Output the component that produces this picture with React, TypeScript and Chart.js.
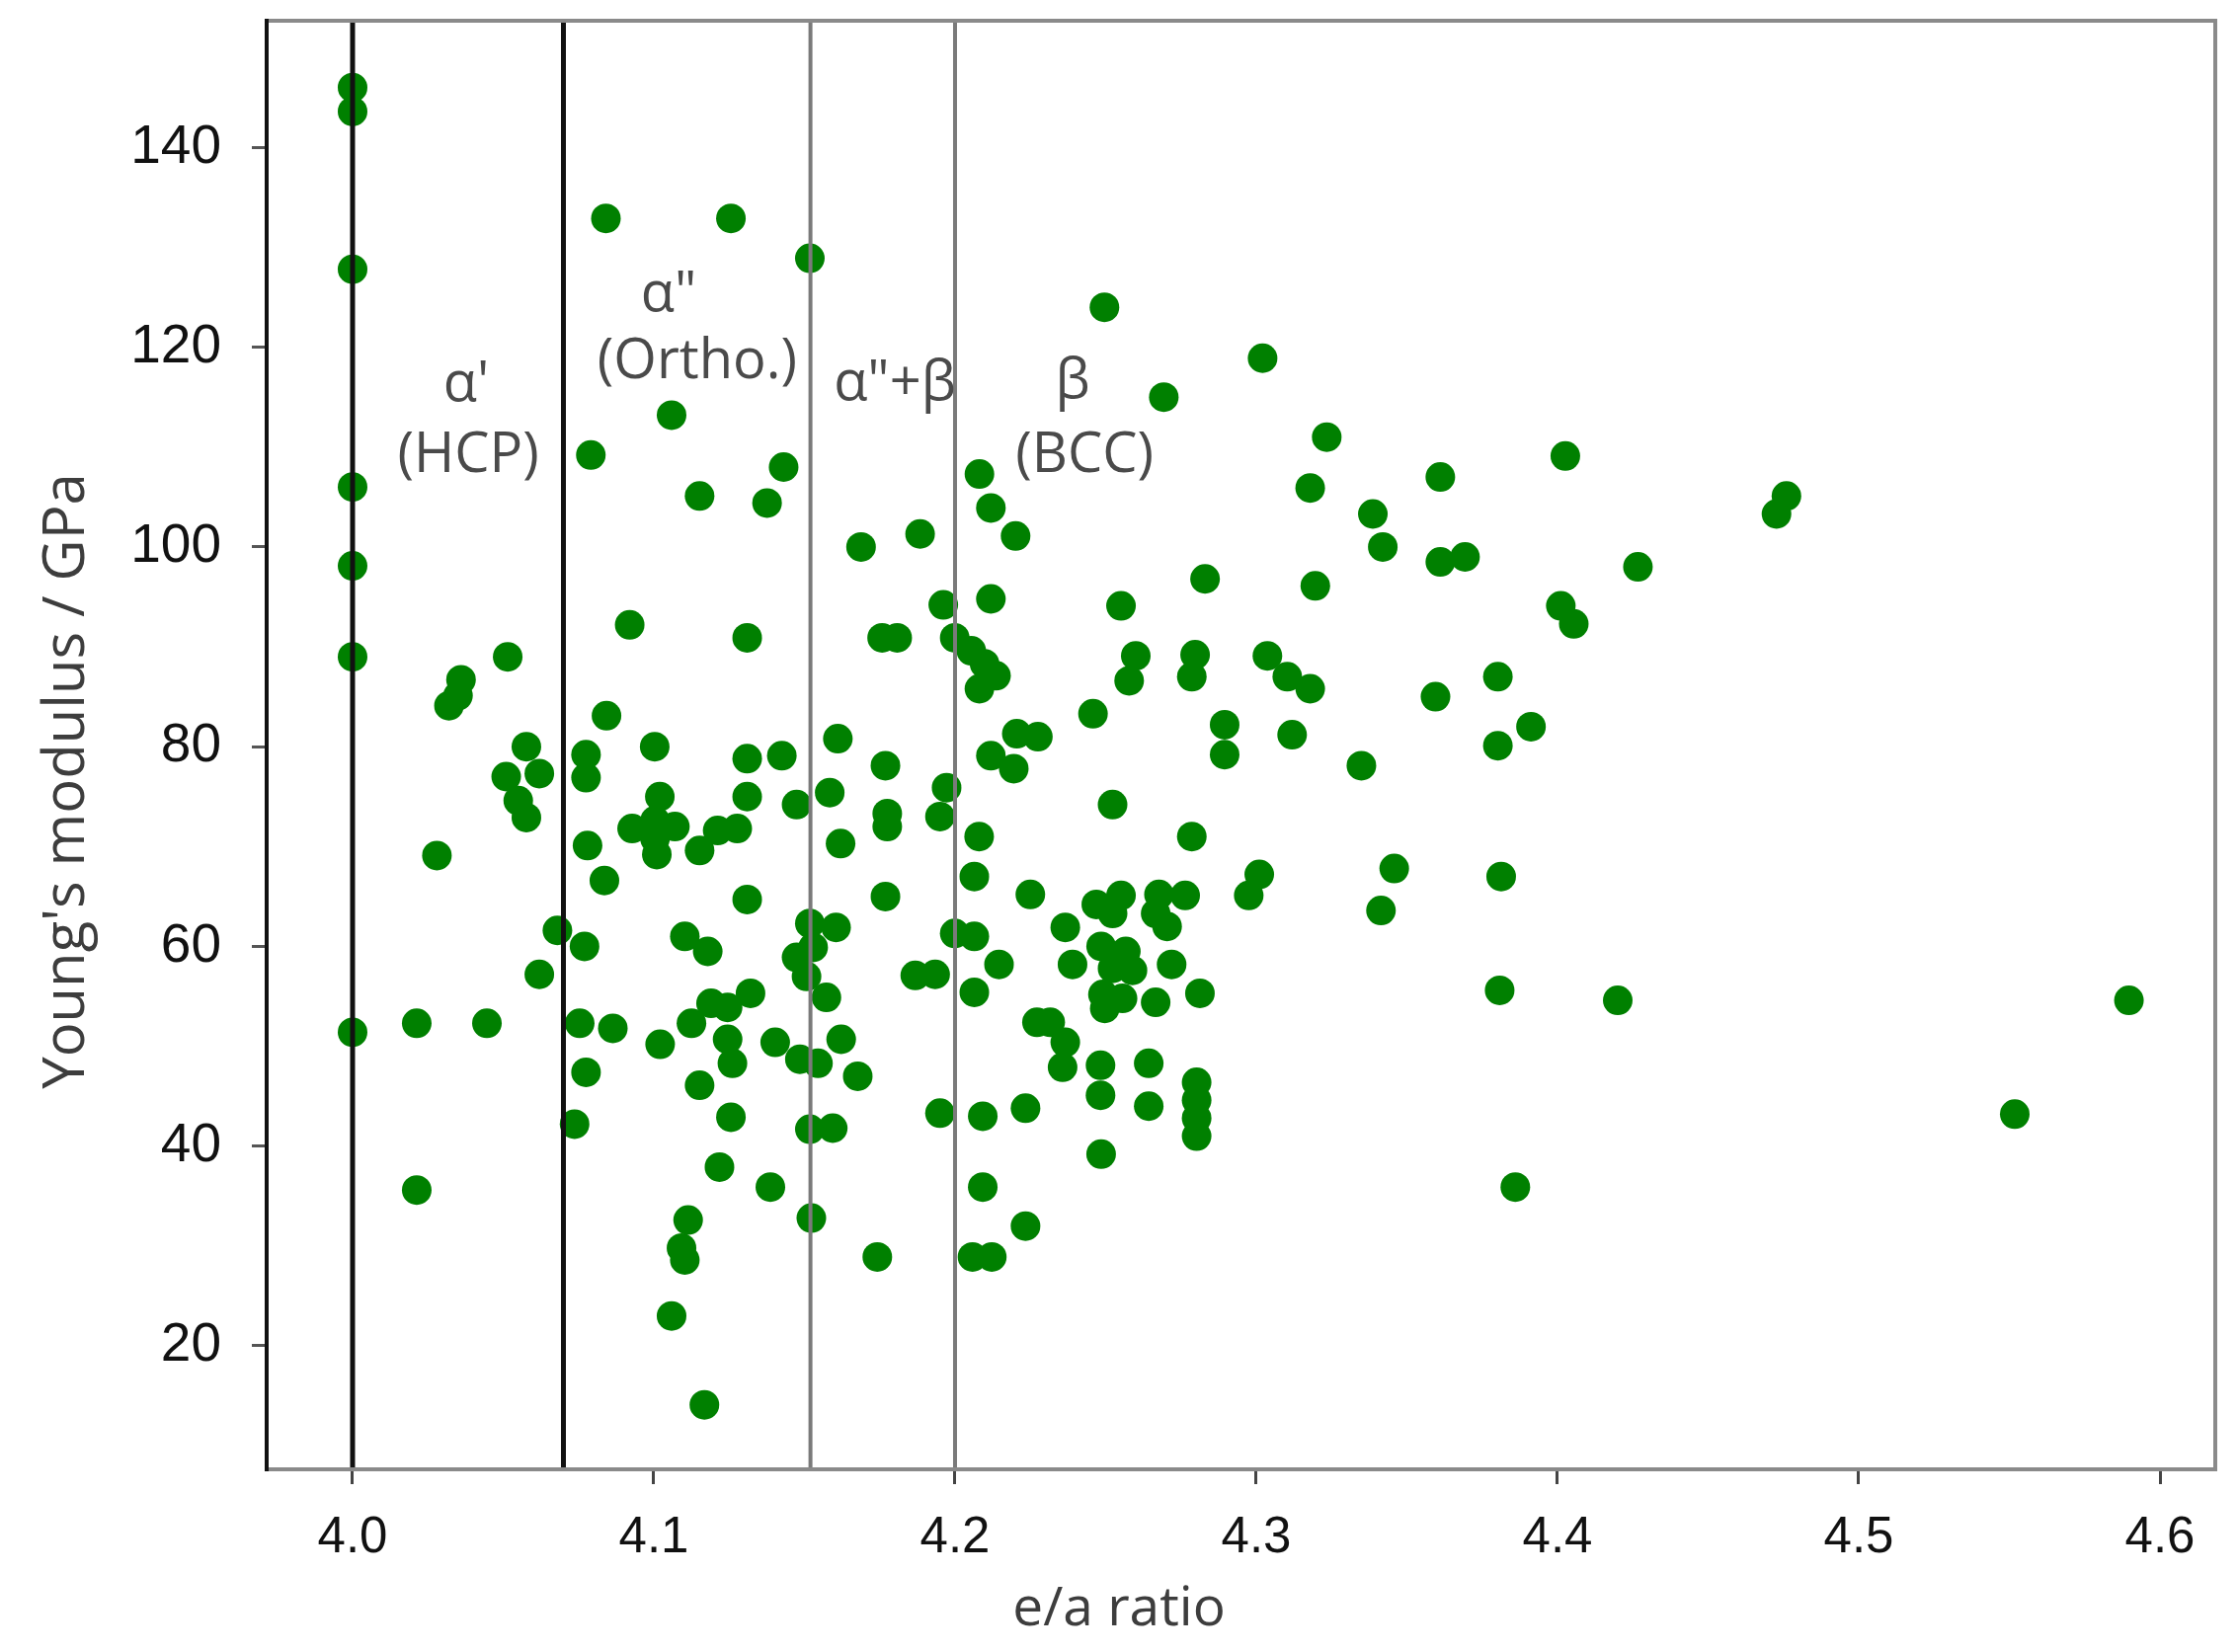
import React, { useEffect, useRef } from "react";
import { Chart, registerables } from "chart.js";

Chart.register(...registerables);

// ---- Data (e/a ratio vs Young's modulus, GPa) ----
// α' (HCP) region
const alphaPrimeEA = [4.0, 4.0, 4.0, 4.0, 4.0, 4.0, 4.0, 4.0213, 4.0213, 4.028, 4.032, 4.035, 4.036, 4.0446, 4.0515, 4.051, 4.0577, 4.062, 4.055, 4.0577, 4.068, 4.062];
const alphaPrimeE = [146.0, 143.6, 127.8, 106.0, 98.1, 89.0, 51.4, 52.3, 35.6, 69.1, 84.1, 85.1, 86.7, 52.3, 89.0, 77.0, 80.0, 77.3, 74.6, 72.9, 61.6, 57.2];

// α'' (Ortho.) region
const alphaDoublePrimeEA = [
  4.0737, 4.077, 4.0775, 4.0775, 4.078, 4.0836, 4.0843, 4.0754, 4.0864, 4.0775,
  4.092, 4.1003, 4.0791, 4.0841, 4.1256, 4.1059, 4.1431, 4.1152, 4.1376, 4.0928,
  4.1004, 4.107, 4.101, 4.1004, 4.1212, 4.1277, 4.1152, 4.102, 4.131, 4.1474,
  4.131, 4.131, 4.1425, 4.131, 4.1103, 4.1179, 4.1321, 4.1474, 4.1507, 4.1021,
  4.1125, 4.119, 4.1245, 4.1245, 4.1261, 4.1403, 4.1485, 4.1152, 4.1256, 4.1218,
  4.1387, 4.1518, 4.1114, 4.1092, 4.1103, 4.1059, 4.1168, 4.1518, 4.1523,
];
const alphaDoublePrimeE = [
  42.2, 60.0, 79.2, 76.9, 70.1, 66.6, 83.1, 52.3, 51.8, 47.4,
  92.2, 80.0, 109.2, 132.9, 132.9, 113.2, 108.0, 105.1, 104.4, 71.8,
  72.6, 72.0, 69.2, 70.8, 71.6, 71.8, 69.6, 75.0, 75.0, 74.2,
  90.9, 78.8, 79.1, 64.7, 61.0, 59.5, 55.3, 58.9, 57.0, 50.2,
  52.3, 54.3, 53.9, 50.7, 48.3, 50.4, 48.7, 46.1, 42.9, 37.9,
  35.9, 41.7, 32.6, 29.8, 28.6, 23.0, 14.1, 62.3, 32.8,
];

// α''+β region
const mixedEA = [
  4.1518, 4.1688, 4.1884, 4.1584, 4.1775, 4.1775, 4.1972, 4.195, 4.1758, 4.1808,
  4.1961, 4.1999, 4.1611, 4.1769, 4.162, 4.1769, 4.1605, 4.1573, 4.1529, 4.1868,
  4.1934, 4.1999, 4.1545, 4.1622, 4.1677, 4.1594, 4.1742, 4.195,
];
const mixedE = [
  128.9, 100.0, 101.3, 75.4, 73.3, 72.0, 75.9, 73.0, 90.9, 90.9,
  94.2, 90.9, 80.8, 78.1, 70.3, 65.0, 61.9, 54.9, 59.9, 57.1,
  57.2, 61.3, 48.3, 50.7, 47.0, 41.8, 28.9, 43.3,
];

// β (BCC) region
const betaEA = [
  4.2081, 4.2119, 4.2201, 4.2119, 4.2054, 4.2098, 4.2136, 4.2081, 4.2205, 4.2119,
  4.2195, 4.2275, 4.2064, 4.225, 4.208, 4.2064, 4.2146, 4.2064, 4.2272, 4.2092,
  4.2234, 4.2092, 4.2234, 4.2058, 4.2122, 4.283, 4.3196, 4.342, 4.3611, 4.3693,
  4.2551, 4.26, 4.2578, 4.2797, 4.2786, 4.3037, 4.3103, 4.3179, 4.3595, 4.3802,
  4.3802, 4.2458, 4.2895, 4.2895, 4.3119, 4.3349, 4.2523, 4.2786, 4.301, 4.2975,
  4.3458, 4.3414, 4.3813, 4.3808, 4.2469, 4.2551, 4.2523, 4.2366, 4.2677, 4.2764,
  4.2666, 4.2704, 4.2485, 4.2567, 4.2523, 4.2589, 4.2491, 4.2556, 4.2497, 4.239,
  4.2719, 4.2666, 4.2813, 4.2316, 4.2366, 4.2357, 4.2483, 4.2483, 4.2643, 4.2643,
  4.2802, 4.2802, 4.2802, 4.2802, 4.2485, 4.386, 4.2496, 4.3021, 4.2693, 4.3234,
  4.3179, 4.3611, 4.3387, 4.4026, 4.4011, 4.4054, 4.4267, 4.476, 4.4727, 4.42,
  4.5518, 4.5897, 4.3912,
];
const betaE = [
  107.3, 103.9, 101.1, 94.8, 89.6, 88.3, 87.1, 85.8, 81.3, 79.1,
  77.8, 81.0, 67.0, 65.2, 71.0, 61.0, 58.2, 55.4, 52.4, 43.0,
  43.8, 35.9, 32.0, 28.9, 28.9, 96.8, 96.1, 100.0, 98.5, 99.0,
  94.1, 89.1, 86.6, 89.2, 87.0, 89.1, 87.0, 85.8, 85.0, 87.0,
  80.1, 83.3, 82.2, 79.2, 81.2, 78.1, 74.2, 71.0, 67.2, 65.1,
  67.8, 63.6, 67.0, 55.6, 64.2, 65.1, 63.3, 61.9, 65.2, 65.1,
  63.3, 62.0, 60.0, 59.5, 57.8, 57.6, 55.2, 54.8, 53.8, 58.2,
  58.2, 54.4, 55.3, 52.4, 50.4, 47.9, 48.1, 45.1, 48.3, 44.0,
  46.4, 44.6, 42.8, 41.0, 39.2, 35.9, 124.0, 118.9, 115.0, 111.0,
  105.9, 107.0, 103.3, 109.1, 94.1, 92.3, 98.0, 105.1, 103.3, 54.6,
  43.2, 54.6, 82.0,
];

// Phase boundaries (e/a) and labels
const boundariesDark = [4.0, 4.07];
const boundariesGrey = [4.152, 4.2];
const xTicks = [4.0, 4.1, 4.2, 4.3, 4.4, 4.5, 4.6];
const yTicks = [20, 40, 60, 80, 100, 120, 140];
const phaseLabelText = ["α'", "(HCP)", 'α"', "(Ortho.)", 'α"+β', "β", "(BCC)"];
const phaseLabelEA = [4.0377, 4.0384, 4.1049, 4.1144, 4.18, 4.239, 4.243];
const phaseLabelE = [114.6, 107.5, 123.6, 116.9, 114.7, 114.9, 107.5];
const xTitle = "e/a ratio";
const yTitle = "Young's modulus / GPa";

const X_MIN = 3.97148;
const X_MAX = 4.61836;
const Y_MIN = 7.64;
const Y_MAX = 152.69;

function toPoints(xs: number[], ys: number[]) {
  return xs.map((x, i) => ({ x, y: ys[i] }));
}

const decorPlugin = {
  id: "decor",
  afterDatasetsDraw(chart: any) {
    const { ctx, chartArea, scales } = chart;
    const xs = scales.x;
    const ys = scales.y;
    ctx.save();
    // phase labels
    ctx.fillStyle = "#4a4a4a";
    ctx.font = '56px "Open Sans"';
    ctx.textAlign = "center";
    ctx.textBaseline = "alphabetic";
    phaseLabelText.forEach((t, i) => {
      ctx.fillText(t, xs.getPixelForValue(phaseLabelEA[i]), ys.getPixelForValue(phaseLabelE[i]));
    });
    // spines
    ctx.lineWidth = 4;
    ctx.strokeStyle = "#8a8a8a";
    ctx.beginPath();
    ctx.moveTo(chartArea.left, chartArea.top);
    ctx.lineTo(chartArea.right, chartArea.top);
    ctx.lineTo(chartArea.right, chartArea.bottom);
    ctx.lineTo(chartArea.left, chartArea.bottom);
    ctx.stroke();
    ctx.strokeStyle = "#111";
    ctx.beginPath();
    ctx.moveTo(chartArea.left, chartArea.top - 2);
    ctx.lineTo(chartArea.left, chartArea.bottom + 2);
    ctx.stroke();
    // axis titles
    ctx.fillStyle = "#3d3d3d";
    ctx.font = '55px "Open Sans"';
    ctx.textAlign = "center";
    ctx.textBaseline = "middle";
    ctx.fillText(xTitle, 1133, 1630);
    ctx.font = '58px "Open Sans"';
    ctx.translate(68, 791);
    ctx.rotate(-Math.PI / 2);
    ctx.fillText(yTitle, 0, 0);
    ctx.restore();
  },
};

export default function App() {
  const canvasRef = useRef<HTMLCanvasElement | null>(null);

  useEffect(() => {
    if (!canvasRef.current) return;
    const lineDatasets: any[] = [];
    boundariesDark.forEach((b) => {
      lineDatasets.push({
        type: "line",
        data: [{ x: b, y: Y_MIN }, { x: b, y: Y_MAX }],
        borderColor: "#111",
        borderWidth: 5,
        pointRadius: 0,
        order: 0,
      });
    });
    boundariesGrey.forEach((b) => {
      lineDatasets.push({
        type: "line",
        data: [{ x: b, y: Y_MIN }, { x: b, y: Y_MAX }],
        borderColor: "#7a7a7a",
        borderWidth: 4,
        pointRadius: 0,
        order: 0,
      });
    });
    const points = [
      ...toPoints(alphaPrimeEA, alphaPrimeE),
      ...toPoints(alphaDoublePrimeEA, alphaDoublePrimeE),
      ...toPoints(mixedEA, mixedE),
      ...toPoints(betaEA, betaE),
    ];
    const chart = new Chart(canvasRef.current, {
      type: "scatter",
      data: {
        datasets: [
          ...lineDatasets,
          {
            type: "scatter",
            data: points,
            backgroundColor: "#008000",
            borderWidth: 0,
            pointRadius: 15,
            pointHoverRadius: 15,
            order: 1,
          },
        ],
      },
      options: {
        responsive: false,
        animation: false,
        events: [],
        layout: { padding: { left: 0, top: 21, right: 22, bottom: 0 } },
        plugins: { legend: { display: false }, tooltip: { enabled: false }, title: { display: false } },
        scales: {
          x: {
            type: "linear",
            min: X_MIN,
            max: X_MAX,
            afterBuildTicks: (s: any) => {
              s.ticks = xTicks.map((v) => ({ value: v }));
            },
            afterFit: (s: any) => {
              s.height = 185;
              s.paddingLeft = 0;
              s.paddingRight = 0;
            },
            grid: { display: true, drawOnChartArea: false, drawTicks: true, tickLength: 15, tickWidth: 3, tickColor: "#444" },
            border: { display: false },
            ticks: {
              padding: 24,
              color: "#111",
              font: { family: '"Liberation Sans"', size: 51 },
              callback: (v: any) => Number(v).toFixed(1),
              maxRotation: 0,
              autoSkip: false,
            },
          },
          y: {
            type: "linear",
            min: Y_MIN,
            max: Y_MAX,
            afterBuildTicks: (s: any) => {
              s.ticks = yTicks.map((v) => ({ value: v }));
            },
            afterFit: (s: any) => {
              s.width = 270;
              s.paddingTop = 0;
              s.paddingBottom = 0;
            },
            grid: { display: true, drawOnChartArea: false, drawTicks: true, tickLength: 15, tickWidth: 3, tickColor: "#555" },
            border: { display: false },
            ticks: {
              padding: 31,
              color: "#111",
              font: { family: '"Liberation Sans"', size: 55 },
              autoSkip: false,
            },
          },
        },
      },
      plugins: [decorPlugin],
    } as any);
    return () => chart.destroy();
  }, []);

  return (
    <div style={{ position: "fixed", left: 0, top: 0, width: 2265, height: 1673, background: "#fff" }}>
      <canvas ref={canvasRef} width={2265} height={1673} style={{ width: 2265, height: 1673 }} />
    </div>
  );
}
